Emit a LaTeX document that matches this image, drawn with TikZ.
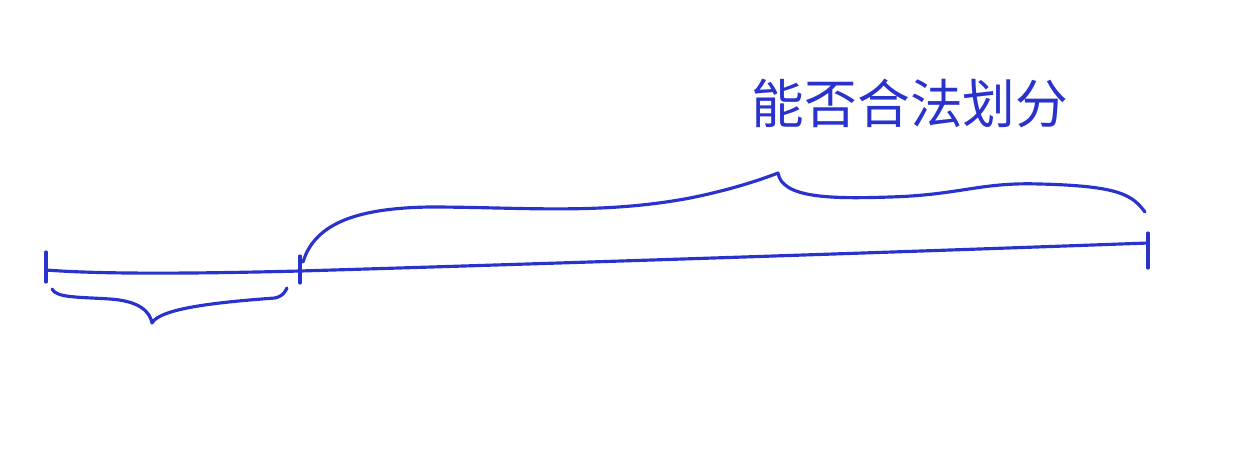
\documentclass[tikz,border=0pt]{standalone}
\usepackage{fontspec}
\newfontfamily\cjk{Noto Sans CJK SC}
\usetikzlibrary{positioning}
\definecolor{ink}{RGB}{42,50,205}

\begin{document}
\begin{tikzpicture}[x=0.02cm,y=-0.02cm,line cap=round,line join=round]
  \useasboundingbox (0,0) rectangle (1260,474);
\tikzset{pen/.style={draw=ink,line width=1.8pt}}
\tikzset{title/.style={text=ink,font=\cjk\fontsize{30}{30}\selectfont}}
  \coordinate          (L)    at (46,270);
  \coordinate          (M)    at (300,271);
  \coordinate          (R)    at (1148,243);
  \coordinate          (lowtip) at (152,323);
  \coordinate          (uptip)  at (778,173);
  \node[title]         (word) at (910,103) {能否合法划分};

  % the segment and its ticks
  \draw[pen] (L) ++(0,-18) -- ++(0,30);
  \draw[pen] (M) ++(0,-15) -- ++(0,27);
  \draw[pen] (R) ++(0,-10) -- ++(0,35);
  \draw[pen] (L) .. controls (110,275) and (220,273) .. (M)
                 .. controls (600,262) and (900,252) .. (R);

  % braces
  \draw[pen] (52,289) .. controls (56,298) and (80,297) .. (110,299)
             .. controls (140,301) and (150,312) .. (lowtip)
             .. controls (160,308) and (220,302) .. (275,298)
             .. controls (282,296) and (284,294) .. (287,288);
  \draw[pen] (303,262) .. controls (315,222) and (360,208) .. (430,207)
             .. controls (520,207) and (600,215) .. (690,198)
             .. controls (730,190) and (760,180) .. (uptip)
             .. controls (782,198) and (830,199) .. (890,197)
             .. controls (960,195) and (980,182) .. (1040,184)
             .. controls (1120,186) and (1132,195) .. (1145,212);
\end{tikzpicture}
\end{document}
